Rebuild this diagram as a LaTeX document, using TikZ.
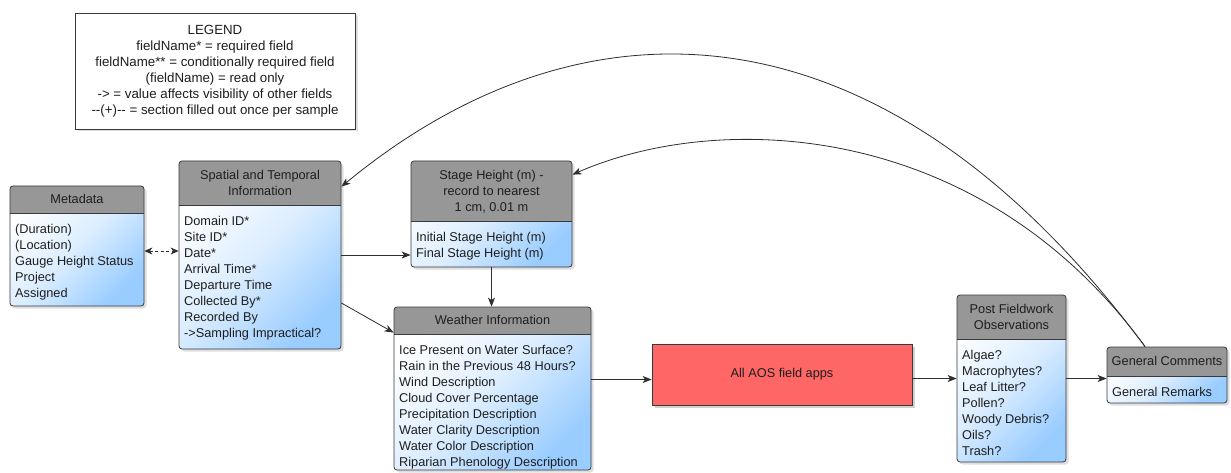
\documentclass[tikz,border=0pt]{standalone}
\usepackage{fontspec}
\setmainfont{Liberation Sans}
\usetikzlibrary{arrows.meta,calc}
\definecolor{linecol}{HTML}{2E2E2E}
\definecolor{bordercol}{HTML}{3A3A3A}
\definecolor{headgray}{HTML}{979797}
\definecolor{bodyblue}{HTML}{99CCFF}
\definecolor{redfill}{HTML}{FF6666}
\definecolor{textcol}{HTML}{1E1E1E}
\tikzset{
  boxshadow/.style={fill=black, opacity=0.13, rounded corners=3pt},
  bodyshade/.style={top color=white, bottom color=bodyblue, middle color=bodyblue!35, shading angle=45, rounded corners=3pt},
  headfill/.style={fill=headgray, rounded corners=3pt},
  tableframe/.style={draw=bordercol, line width=0.8pt, rounded corners=3pt, inner sep=0pt},
  divider/.style={draw=bordercol, line width=0.8pt},
  headtext/.style={inner sep=0pt, text=textcol, font=\fontsize{12.75}{16}\selectfont},
  bodytext/.style={inner sep=0pt, anchor=base west, text=textcol, font=\fontsize{12.75}{16}\selectfont},
  legendbox/.style={draw=bordercol, line width=0.8pt, fill=white, inner sep=0pt, text=textcol, font=\fontsize{13.3}{16}\selectfont},
  redbox/.style={draw=bordercol, line width=0.8pt, fill=redfill, inner sep=0pt, text=textcol, font=\fontsize{12.75}{16}\selectfont},
  conn/.style={draw=linecol, line width=0.8pt, -{Stealth[length=9pt,width=7pt,inset=2.5pt]}},
  dconn/.style={draw=linecol, line width=0.8pt, dashed, dash pattern=on 3pt off 2.5pt, {Stealth[length=8pt,width=7pt,inset=2.5pt]}-{Stealth[length=8pt,width=7pt,inset=2.5pt]}}
}
% #1 name, #2 x1, #3 y1, #4 x2, #5 y header bottom, #6 y2, #7 header, #8 body
\newcommand\tablebox[8]{%
  \fill[boxshadow] ({#2+2.5},{#3+2.5}) rectangle ({#4+2.5},{#6+2.5});
  \begin{scope}
    \clip ({#2-1},#5) rectangle ({#4+1},{#6+1});
    \shade[bodyshade] (#2,#3) rectangle (#4,#6);
  \end{scope}
  \begin{scope}
    \clip ({#2-1},{#3-1}) rectangle ({#4+1},#5);
    \fill[headfill] (#2,#3) rectangle (#4,#6);
  \end{scope}
  \node[tableframe, minimum width={(#4-#2)*1pt}, minimum height={(#6-#3)*1pt}] (#1) at ({(#2+#4)/2},{(#3+#6)/2}) {};
  \draw[divider] (#2,#5) -- (#4,#5);
  \node[headtext, yshift=-1pt] (#1-head) at ({(#2+#4)/2},{(#3+#5)/2}) {\begin{tabular}{@{}c@{}}#7\end{tabular}};
  \node[bodytext] (#1-body) at ({#2+5},{#5+20.3}) {\begin{tabular}[t]{@{}l@{}}#8\end{tabular}};
}
\begin{document}
\begin{tikzpicture}[x=1pt,y=-1pt]
\fill[white] (0,0) rectangle (1231,473);
\useasboundingbox (0,0) rectangle (1231,473);

% legend
\fill[boxshadow, rounded corners=0pt] (77.5,15.5) rectangle (357.5,131.5);
\node[legendbox, minimum width=280pt, minimum height=116pt] (legend) at (215,71)
  {\begin{tabular}{@{}c@{}}LEGEND\\ fieldName* = required field\\ fieldName** = conditionally required field\\ (fieldName) = read only\\ -> = value affects visibility of other fields\\ -{}-(+)-{}- = section filled out once per sample\end{tabular}};

\tablebox{meta}{10}{186}{144}{213}{306}{Metadata}{(Duration)\\ (Location)\\ Gauge Height Status\\ Project\\ Assigned}
\tablebox{spatial}{179}{161}{341}{205}{349}{Spatial and Temporal\\ Information}{Domain ID*\\ Site ID*\\ Date*\\ Arrival Time*\\ Departure Time\\ Collected By*\\ Recorded By\\ ->Sampling Impractical?}
\tablebox{stage}{411}{161}{572}{221}{267}{Stage Height (m) -\\ record to nearest\\ 1 cm, 0.01 m}{Initial Stage Height (m)\\ Final Stage Height (m)}
\tablebox{weather}{394}{307}{591}{334}{470}{Weather Information}{Ice Present on Water Surface?\\ Rain in the Previous 48 Hours?\\ Wind Description\\ Cloud Cover Percentage\\ Precipitation Description\\ Water Clarity Description\\ Water Color Description\\ Riparian Phenology Description}
\tablebox{post}{957}{295}{1066}{339}{462}{Post Fieldwork\\ Observations}{Algae?\\ Macrophytes?\\ Leaf Litter?\\ Pollen?\\ Woody Debris?\\ Oils?\\ Trash?}
\tablebox{gen}{1107}{347}{1227}{376}{403}{General Comments}{General Remarks}

% red box
\fill[black, opacity=0.18] (654.5,346.5) rectangle (914.5,407.5);
\node[redbox, minimum width=260pt, minimum height=61pt] (red) at (782,374.5) {All AOS field apps};

% connectors
\draw[dconn] ([yshift=-5pt]meta.east) -- ([yshift=-5pt]meta.east -| spatial.west);
\draw[conn] (spatial.east) -- (spatial.east -| stage.west);
\draw[conn] ([yshift=-48pt]spatial.east) -- ([yshift=-26pt]weather.north west);
\draw[conn] (stage.south) -- (stage.south |- weather.north);
\draw[conn] ([yshift=-5pt]red.west -| weather.east) -- ([yshift=-5pt]red.west);
\draw[conn] (red.east |- post.west) -- (post.west);
\draw[conn] (post.east) -- (post.east -| gen.west);
\draw[conn] ([xshift=-22pt]gen.north) .. controls (880,-10) and (580,-10) .. ([yshift=-26pt]spatial.north east);
\draw[conn] ([xshift=-22pt]gen.north) .. controls (980,120) and (720,110) .. ([yshift=-14pt]stage.north east);
\end{tikzpicture}
\end{document}
